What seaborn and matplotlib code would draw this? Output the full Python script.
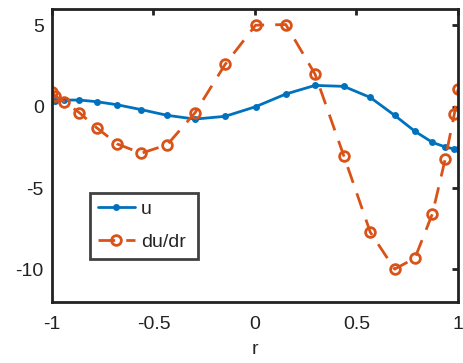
import matplotlib
matplotlib.use("Agg")
import matplotlib.pyplot as plt
import seaborn as sns
import pandas as pd

r = [-1.0, -0.985, -0.94, -0.865, -0.78, -0.678, -0.56, -0.432, -0.295, -0.147,
     0.003, 0.152, 0.296, 0.438, 0.568, 0.688, 0.788, 0.874, 0.937, 0.982, 1.0]
u = [0.35, 0.35, 0.41, 0.41, 0.31, 0.12, -0.18, -0.53, -0.76, -0.59,
     0.0, 0.78, 1.31, 1.25, 0.57, -0.53, -1.51, -2.19, -2.47, -2.6, -2.6]
dudr = [0.92, 0.67, 0.31, -0.37, -1.29, -2.29, -2.86, -2.33, -0.37, 2.60,
        5.01, 5.05, 2.0, -3.03, -7.71, -9.98, -9.30, -6.58, -3.23, -0.45, 1.06]
xticks = [-1, -0.5, 0, 0.5, 1]
xticklabels = ["-1", "-0.5", "0", "0.5", "1"]
yticks = [-10, -5, 0, 5]
yticklabels = ["-10", "-5", "0", "5"]

sns.set_style("white")
plt.rcParams['font.family'] = ['Liberation Sans', 'DejaVu Sans']
plt.rcParams['axes.unicode_minus'] = False

df = pd.DataFrame({"r": r, "u": u, "dudr": dudr})

fig = plt.figure(figsize=(4.64, 3.63), dpi=100)
ax = fig.add_axes([0.112, 0.168, 0.875, 0.807])

blue = "#0072BD"
orange = "#D95319"

sns.lineplot(data=df, x="r", y="u", ax=ax, color=blue, linewidth=2,
             marker="o", markersize=5, markeredgewidth=0, markerfacecolor=blue,
             label="u")
sns.lineplot(data=df, x="r", y="dudr", ax=ax, color=orange, linewidth=2,
             linestyle=(0, (6, 4)), marker="o", markersize=7,
             markerfacecolor="none", markeredgecolor=orange, markeredgewidth=2,
             label="du/dr")

ax.set_xlim(-1, 1)
ax.set_ylim(-12, 6)
ax.set_xticks(xticks)
ax.set_xticklabels(xticklabels)
ax.set_yticks(yticks)
ax.set_yticklabels(yticklabels)
ax.set_xlabel("r", fontsize=14, labelpad=6)
ax.set_ylabel("")
ax.tick_params(direction="in", length=4, width=2, labelsize=14,
               top=True, right=True, color="#222222", labelcolor="#222222")
ax.tick_params(axis="x", pad=10)
ax.tick_params(axis="y", pad=6)
for s in ax.spines.values():
    s.set_linewidth(2)
    s.set_color("#222222")
    s.set_visible(True)

leg = ax.legend(loc="lower left", bbox_to_anchor=(0.094, 0.147, 0.265, 0.239),
                mode="expand", fontsize=14, frameon=True, fancybox=False,
                handlelength=1.9, borderpad=0.4, labelspacing=0.8,
                handletextpad=0.3, borderaxespad=0)
leg.get_frame().set_edgecolor("#111111")
leg.get_frame().set_linewidth(2)

fig.savefig("out.png", dpi=100)
